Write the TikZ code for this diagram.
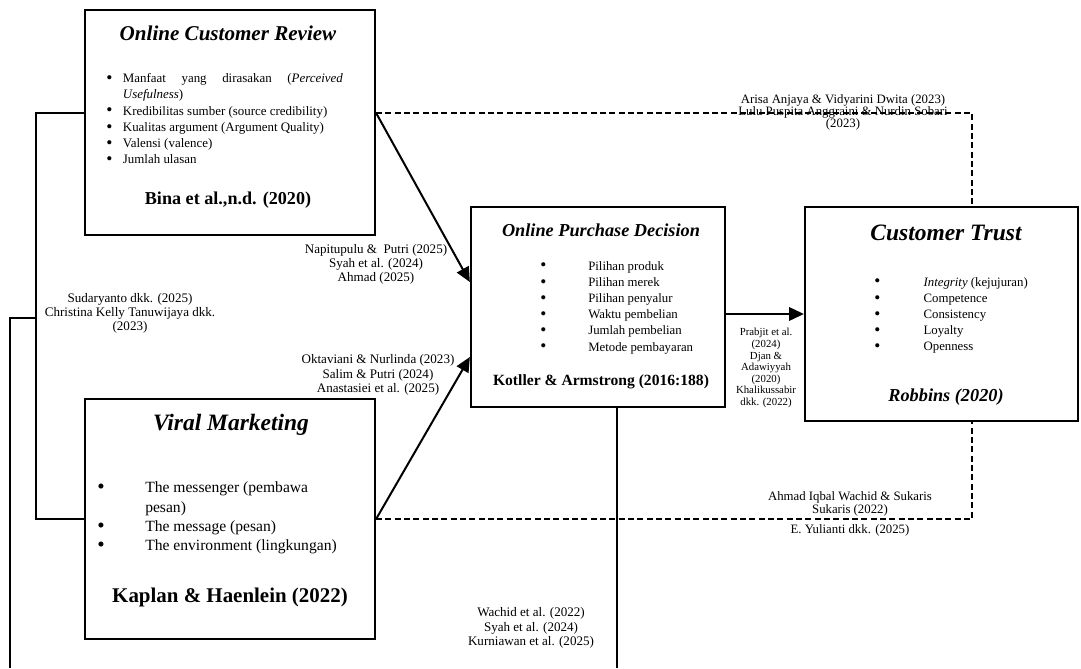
\documentclass[tikz,border=0pt]{standalone}
\usepackage{graphicx}
\usepackage{fontspec}
\setmainfont{Liberation Serif}
\usetikzlibrary{arrows.meta,fit}
\newcommand\blitem[2]{\makebox[#1][l]{\raisebox{-0.06em}{\scalebox{1.35}{\textbullet}}}#2}
\begin{document}
\begin{tikzpicture}[x=0.75pt,y=-0.75pt,
  boxline/.style={draw, line width=1.7pt, inner sep=0pt},
  conn/.style={line width=1.5pt},
  arr/.style={conn,-{Triangle[length=11pt,width=10pt]}},
  dsh/.style={line width=1.2pt, dash pattern=on 4.5pt off 2.5pt},
  lbl/.style={inner sep=0pt, align=center},
  lst/.style={inner sep=0pt, align=left, anchor=west},
]
\useasboundingbox (0,0) rectangle (1081,668);
% boxes
\coordinate (ocr1) at (85,10); \coordinate (ocr2) at (375,235);
\node[boxline, fit=(ocr1)(ocr2)] (ocr) {};
\coordinate (vm1) at (85,399); \coordinate (vm2) at (375,639);
\node[boxline, fit=(vm1)(vm2)] (vm) {};
\coordinate (opd1) at (471,207); \coordinate (opd2) at (725,407);
\node[boxline, fit=(opd1)(opd2)] (opd) {};
\coordinate (ct1) at (805,207); \coordinate (ct2) at (1078,421);
\node[boxline, fit=(ct1)(ct2)] (ct) {};
% OCR contents
\node[font={\fontsize{15.8pt}{18pt}\selectfont\bfseries\itshape}] (ocrt) at (228,33) {Online Customer Review};
\node[lst, font={\fontsize{9.7pt}{12.2pt}\selectfont}] (ocrl) at (106,119)
 {\blitem{12.5pt}{\makebox[165pt][s]{Manfaat yang dirasakan (\textit{Perceived}}}\\
  \hspace*{12.5pt}\textit{Usefulness})\\
  \blitem{12.5pt}{Kredibilitas sumber (source credibility)}\\
  \blitem{12.5pt}{Kualitas argument (Argument Quality)}\\
  \blitem{12.5pt}{Valensi (valence)}\\
  \blitem{12.5pt}{Jumlah ulasan}};
\node[font={\fontsize{13.6pt}{16pt}\selectfont\bfseries}] (ocrr) at (228,200) {Bina et al.,n.d. (2020)};
% VM contents
\node[font={\fontsize{17.6pt}{20pt}\selectfont\bfseries\itshape}] (vmt) at (231,425) {Viral Marketing};
\node[lst, font={\fontsize{11.7pt}{14.5pt}\selectfont}] (vml) at (97,518)
 {\blitem{36pt}{The messenger (pembawa}\\
  \hspace*{36pt}pesan)\\
  \blitem{36pt}{The message (pesan)}\\
  \blitem{36pt}{The environment (lingkungan)}};
\node[font={\fontsize{15.7pt}{18pt}\selectfont\bfseries}] (vmr) at (230,597) {Kaplan \& Haenlein (2022)};
% OPD contents
\node[font={\fontsize{13.7pt}{16pt}\selectfont\bfseries\itshape}] (opdt) at (601,230) {Online Purchase Decision};
\node[lst, font={\fontsize{9.6pt}{12.15pt}\selectfont}] (opdl) at (540,307.5)
 {\blitem{36pt}{Pilihan produk}\\
  \blitem{36pt}{Pilihan merek}\\
  \blitem{36pt}{Pilihan penyalur}\\
  \blitem{36pt}{Waktu pembelian}\\
  \blitem{36pt}{Jumlah pembelian}\\
  \blitem{36pt}{Metode pembayaran}};
\node[font={\fontsize{11.7pt}{14pt}\selectfont\bfseries}] (opdr) at (601,382) {Kotller \& Armstrong (2016:188)};
% CT contents
\node[font={\fontsize{17.6pt}{20pt}\selectfont\bfseries\itshape}] (ctt) at (946,233) {Customer Trust};
\node[lst, font={\fontsize{9.6pt}{12.15pt}\selectfont}] (ctl) at (874,315.5)
 {\blitem{37pt}{\textit{Integrity} (kejujuran)}\\
  \blitem{37pt}{Competence}\\
  \blitem{37pt}{Consistency}\\
  \blitem{37pt}{Loyalty}\\
  \blitem{37pt}{Openness}};
\node[font={\fontsize{13.7pt}{16pt}\selectfont\bfseries\itshape}] (ctr) at (946,397) {Robbins (2020)};
% labels
\node[lbl, font={\fontsize{9.8pt}{10.5pt}\selectfont}] (la) at (376,264) {Napitupulu \&\ \ Putri (2025)\\Syah et al. (2024)\\Ahmad (2025)};
\node[lbl, font={\fontsize{9.8pt}{10.9pt}\selectfont}] (lb) at (378,375) {Oktaviani \& Nurlinda (2023)\\Salim \& Putri (2024)\\Anastasiei et al. (2025)};
\node[lbl, font={\fontsize{9.8pt}{10.5pt}\selectfont}] (lc) at (130,313) {Sudaryanto dkk. (2025)\\Christina Kelly Tanuwijaya dkk.\\(2023)};
\node[lbl, font={\fontsize{9.6pt}{9pt}\selectfont}] (ld) at (843,112) {Arisa Anjaya \& Vidyarini Dwita (2023)\\Lulu Puspita Anggraini \& Nurdin Sobari\\(2023)};
\node[lbl, font={\fontsize{9.6pt}{9.5pt}\selectfont}] (le) at (850,514) {Ahmad Iqbal Wachid \& Sukaris\\Sukaris (2022)\\[6pt]E. Yulianti dkk. (2025)};
\node[lbl, font={\fontsize{8.1pt}{8.7pt}\selectfont}] (lf) at (766,368) {Prabjit et al.\\(2024)\\Djan \&\\Adawiyyah\\(2020)\\Khalikussabir\\dkk. (2022)};
\node[lbl, font={\fontsize{9.8pt}{10.9pt}\selectfont}] (lg) at (531,628) {Wachid et al. (2022)\\Syah et al. (2024)\\Kurniawan et al. (2025)};
% connectors
\draw[dsh] ([yshift=7.1pt]ocr.east) -| ([xshift=22.9pt]ct.north);
\draw[dsh] (vm.east) -| ([xshift=22.9pt]ct.south);
\draw[arr] ([yshift=7.1pt]ocr.east) -- ([yshift=18.75pt]opd.west);
\draw[arr] (vm.east) -- ([yshift=-37.5pt]opd.west);
\draw[arr] (opd.east |- ct.west) -- (ct.west);
\draw[conn] ([yshift=7.1pt]ocr.west) -- ++(-48,0) |- (vm.west);
\coordinate (j1) at (37,318); \coordinate (e1) at (10,668);
\draw[conn] (j1) -| (e1);
\coordinate (e2) at (617,668);
\draw[conn] (opd.south -| e2) -- (e2);
\end{tikzpicture}
\end{document}
